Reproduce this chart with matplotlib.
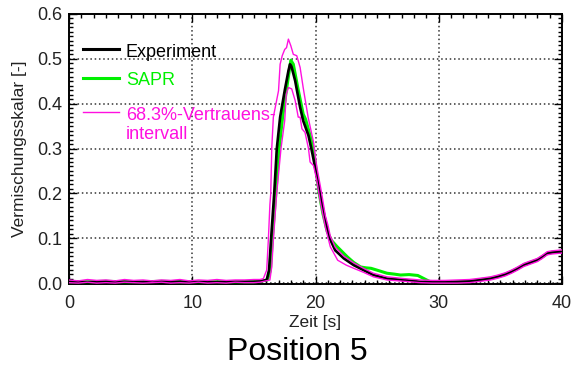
import matplotlib
matplotlib.use("Agg")
import matplotlib.pyplot as plt
from matplotlib.ticker import MultipleLocator, FormatStrFormatter
from matplotlib.lines import Line2D

plt.rcParams['font.family'] = ['Liberation Sans', 'DejaVu Sans']

# Experiment (measured mixing scalar)
t_exp = [0, 1.5, 3, 4.5, 6, 7.5, 9, 10.5, 12, 13.5, 15, 15.5, 16.04, 16.23, 16.4,
         16.65, 16.86, 17.13, 17.5, 17.8, 17.93, 18.05, 18.35, 18.75, 19.0, 19.43,
         19.7, 19.97, 20.24, 20.5, 20.8, 21.1, 21.6, 22.3, 23.1, 23.9, 24.7, 25.8,
         27.2, 28.5, 29.5, 30.5, 31.5, 32.5, 33.4, 34.2, 34.8, 35.4, 35.9, 36.4,
         36.9, 37.5, 38.0, 38.4, 38.8, 39.2, 39.6, 40.0]
y_exp = [0.003, 0.002, 0.003, 0.003, 0.002, 0.003, 0.003, 0.002, 0.002, 0.003, 0.003,
         0.004, 0.007, 0.029, 0.100, 0.200, 0.300, 0.370, 0.429, 0.473, 0.488, 0.483,
         0.451, 0.392, 0.362, 0.329, 0.295, 0.258, 0.220, 0.180, 0.140, 0.103, 0.073,
         0.055, 0.040, 0.029, 0.018, 0.010, 0.007, 0.003, 0.002, 0.002, 0.003, 0.004,
         0.007, 0.010, 0.014, 0.019, 0.025, 0.032, 0.040, 0.046, 0.051, 0.058, 0.066,
         0.068, 0.069, 0.070]

# SAPR simulation
t_sapr = [0, 1.5, 3, 4.5, 6, 7.5, 9, 10.5, 12, 13.5, 15, 15.5, 16.1, 16.34, 16.5,
          16.78, 17.05, 17.33, 17.75, 18.0, 18.2, 18.56, 19.0, 19.2, 19.7, 19.97,
          20.3, 20.6, 20.95, 21.3, 21.76, 22.2, 22.6, 23.1, 23.66, 24.1, 24.5, 25.1,
          25.8, 26.4, 26.9, 27.6, 28.3, 28.8, 29.3, 30.5, 31.5, 32.5, 33.4, 34.2,
          34.8, 35.4, 35.9, 36.4, 36.9, 37.5, 38.0, 38.4, 38.8, 39.2, 39.6, 40.0]
y_sapr = [0.003, 0.003, 0.004, 0.003, 0.003, 0.004, 0.003, 0.003, 0.003, 0.003, 0.003,
          0.004, 0.007, 0.029, 0.100, 0.200, 0.300, 0.370, 0.451, 0.497, 0.488, 0.436,
          0.377, 0.365, 0.315, 0.270, 0.200, 0.155, 0.115, 0.095, 0.081, 0.069, 0.058,
          0.046, 0.036, 0.034, 0.033, 0.028, 0.022, 0.020, 0.018, 0.019, 0.017, 0.010,
          0.003, 0.002, 0.003, 0.004, 0.008, 0.011, 0.015, 0.020, 0.026, 0.033, 0.041,
          0.047, 0.052, 0.059, 0.066, 0.069, 0.070, 0.071]

# 68.3% confidence interval: upper bound
t_hi = [0, 0.75, 1.5, 2.25, 3, 3.75, 4.5, 5.25, 6, 6.75, 7.5, 8.25, 9, 9.75, 10.5,
        11.25, 12, 12.75, 13.5, 14.25, 15, 15.5, 15.77, 16.04, 16.18, 16.3, 16.37,
        16.45, 16.58, 17.0, 17.13, 17.3, 17.5, 17.65, 17.8, 18.0, 18.2, 18.48, 18.75,
        19.0, 19.4, 19.84, 20.1, 20.5, 20.8, 21.0, 21.2, 21.6, 22.3, 23.1, 23.9, 24.7,
        25.8, 27.2, 28.5, 29.5, 30.5, 31.5, 32.5, 33.4, 34.2, 34.8, 35.4, 35.9, 36.4,
        36.9, 37.5, 38.0, 38.4, 38.8, 39.2, 39.6, 40.0]
y_hi = [0.007, 0.005, 0.008, 0.006, 0.007, 0.005, 0.008, 0.006, 0.007, 0.005, 0.007,
        0.006, 0.008, 0.005, 0.007, 0.006, 0.008, 0.006, 0.007, 0.007, 0.008, 0.008,
        0.010, 0.029, 0.100, 0.175, 0.200, 0.300, 0.370, 0.429, 0.488, 0.507, 0.521,
        0.525, 0.544, 0.529, 0.510, 0.507, 0.481, 0.436, 0.370, 0.314, 0.260, 0.200,
        0.150, 0.130, 0.105, 0.080, 0.060, 0.045, 0.033, 0.022, 0.014, 0.010, 0.007,
        0.006, 0.006, 0.007, 0.008, 0.011, 0.014, 0.018, 0.023, 0.029, 0.036, 0.044,
        0.050, 0.055, 0.062, 0.070, 0.072, 0.073, 0.074]

# 68.3% confidence interval: lower bound
t_lo = [0, 0.75, 1.5, 2.25, 3, 3.75, 4.5, 5.25, 6, 6.75, 7.5, 8.25, 9, 9.75, 10.5,
        11.25, 12, 12.75, 13.5, 14.25, 15, 15.5, 16.3, 16.45, 16.59, 16.85, 17.2,
        17.5, 17.63, 17.8, 18.07, 18.35, 18.6, 18.75, 18.9, 19.15, 19.43, 19.56,
        19.84, 20.1, 20.4, 20.8, 21.2, 21.8, 22.5, 23.1, 23.9, 24.7, 25.8, 27.2, 28.5,
        29.5, 30.5, 31.5, 32.5, 33.4, 34.2, 34.8, 35.4, 35.9, 36.4, 36.9, 37.5, 38.0,
        38.4, 38.8, 39.2, 39.6, 40.0]
y_lo = [0.001, 0.000, 0.002, 0.000, 0.001, 0.000, 0.002, 0.001, 0.000, 0.001, 0.002,
        0.000, 0.001, 0.000, 0.002, 0.000, 0.001, 0.000, 0.002, 0.001, 0.001, 0.002,
        0.007, 0.036, 0.100, 0.200, 0.300, 0.362, 0.421, 0.436, 0.433, 0.407, 0.370,
        0.370, 0.344, 0.336, 0.300, 0.270, 0.262, 0.230, 0.180, 0.125, 0.081, 0.051,
        0.040, 0.033, 0.024, 0.014, 0.007, 0.004, 0.001, 0.000, 0.000, 0.000, 0.001,
        0.004, 0.007, 0.011, 0.016, 0.022, 0.029, 0.037, 0.043, 0.048, 0.055, 0.063,
        0.065, 0.066, 0.067]

legend_labels = ["Experiment", "SAPR", "68.3%-Vertrauens-\nintervall"]

c_exp = "black"
c_sapr = "#00f000"
c_ci = "#ff10e0"

fig = plt.figure(figsize=(5.8, 3.7), dpi=100)
ax = fig.add_axes([69 / 580, 1 - 284 / 370, 493 / 580, 270 / 370])

ax.plot(t_sapr, y_sapr, color=c_sapr, lw=2.2, zorder=3)
ax.plot(t_exp, y_exp, color=c_exp, lw=1.9, zorder=4)
ax.plot(t_hi, y_hi, color=c_ci, lw=1.0, zorder=5)
ax.plot(t_lo, y_lo, color=c_ci, lw=1.0, zorder=5)

ax.set_xlim(0, 40)
ax.set_ylim(-0.002, 0.6)

ax.xaxis.set_major_locator(MultipleLocator(10))
ax.xaxis.set_minor_locator(MultipleLocator(1))
ax.yaxis.set_major_locator(MultipleLocator(0.1))
ax.yaxis.set_minor_locator(MultipleLocator(0.01))
ax.yaxis.set_major_formatter(FormatStrFormatter('%.1f'))

ax.tick_params(which='both', direction='in', top=True, right=True, width=1.0,
               colors='black', labelsize=13)
ax.tick_params(which='major', length=6)
ax.tick_params(which='minor', length=3)
ax.tick_params(axis='x', which='major', pad=8)
ax.tick_params(axis='y', which='major', pad=5)
for lbl in ax.get_xticklabels() + ax.get_yticklabels():
    lbl.set_color('#222222')

for s in ax.spines.values():
    s.set_linewidth(1.4)
    s.set_color('black')

# dotted grid at the major ticks
for xv in [10, 20, 30]:
    ax.axvline(xv, color='#333333', lw=1.1, ls=(0, (1, 1.8)), zorder=1)
for yv in [0.0, 0.1, 0.2, 0.3, 0.4, 0.5]:
    ax.axhline(yv, color='#333333', lw=1.1, ls=(0, (1, 1.8)), zorder=1)

# legend drawn by hand: short line sample followed by coloured text
leg_y = [0.870, 0.763, 0.637]
leg_style = [(c_exp, 2.2), (c_sapr, 2.2), (c_ci, 1.0)]
text_drop = 3 / 270
for yy, (col, lw), lab in zip(leg_y, leg_style, legend_labels):
    ax.add_line(Line2D([0.0284, 0.101], [yy, yy], transform=ax.transAxes,
                       color=col, lw=lw, zorder=6))
    for k, part in enumerate(lab.split('\n')):
        ax.text(0.1156, yy - text_drop - k * 19 / 270, part,
                transform=ax.transAxes, color=col, fontsize=13,
                va='center', ha='left', zorder=6)

fig.text(315 / 580, 1 - 322 / 370, "Zeit [s]", ha='center', va='center',
         fontsize=12.5, color='#222222')
fig.text(20 / 580, 1 - 149 / 370, "Vermischungsskalar [-]", ha='center',
         va='center', rotation=90, fontsize=12.5, color='#222222')
fig.text(297 / 580, 1 - 352 / 370, "Position 5", ha='center', va='center',
         fontsize=23, color='black')

fig.savefig("out.png", dpi=100)
